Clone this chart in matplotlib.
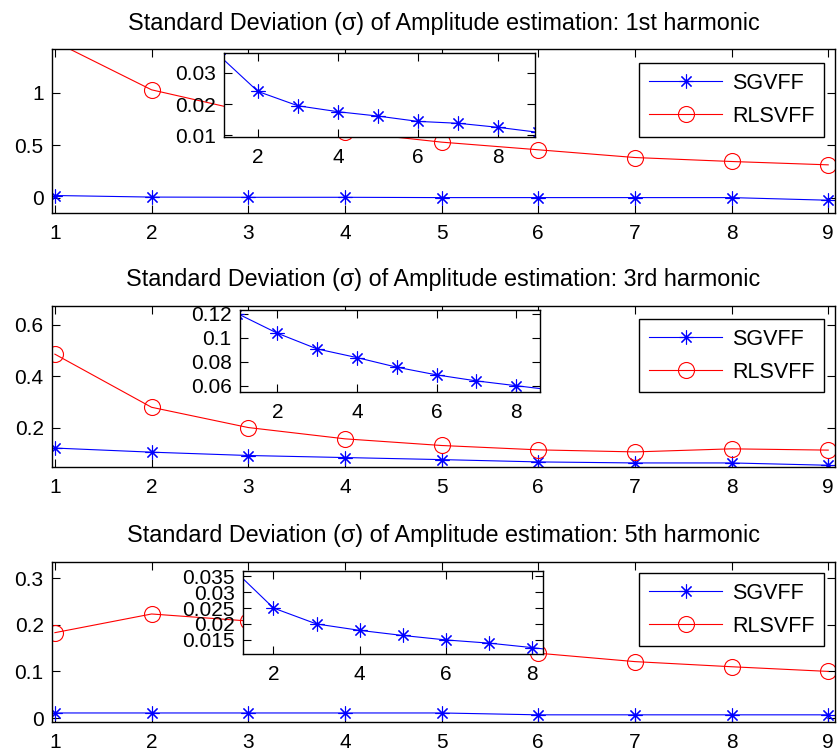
import matplotlib
matplotlib.use("Agg")
from matplotlib import pyplot as plt

plt.rcParams['font.family'] = ['Liberation Sans', 'DejaVu Sans']

x = [1, 2, 3, 4, 5, 6, 7, 8, 9]

# main panels
sg_1st = [0.02, 0.005, 0.003, 0.003, 0.0, 0.0, 0.0, 0.0, -0.025]
rls_1st = [1.49, 1.03, 0.82, 0.63, 0.53, 0.457, 0.383, 0.345, 0.313]
sg_3rd = [0.12, 0.104, 0.091, 0.083, 0.075, 0.066, 0.062, 0.062, 0.053]
rls_3rd = [0.486, 0.279, 0.2, 0.156, 0.13, 0.113, 0.105, 0.117, 0.112]
sg_5th = [0.011, 0.011, 0.011, 0.011, 0.011, 0.007, 0.007, 0.007, 0.007]
rls_5th = [0.183, 0.223, 0.208, 0.19, 0.165, 0.139, 0.121, 0.11, 0.1]

# zoomed SGVFF curves shown in the insets
sg_1st_zoom = [0.036, 0.0241, 0.0195, 0.0176, 0.0162, 0.0145, 0.0139, 0.0126, 0.011]
sg_3rd_zoom = [0.12, 0.1037, 0.0906, 0.0834, 0.0754, 0.069, 0.064, 0.06, 0.056]
sg_5th_zoom = [0.038, 0.025, 0.02, 0.018, 0.0164, 0.015, 0.014, 0.0126, 0.011]

titles = ["Standard Deviation (σ) of Amplitude estimation: 1st harmonic",
          "Standard Deviation (σ) of Amplitude estimation: 3rd harmonic",
          "Standard Deviation (σ) of Amplitude estimation: 5th harmonic"]

main_yticks = [[0, 0.5, 1], [0.2, 0.4, 0.6], [0, 0.1, 0.2, 0.3]]
main_ylabels = [["0", "0.5", "1"], ["0.2", "0.4", "0.6"], ["0", "0.1", "0.2", "0.3"]]
main_ylims = [(-0.15, 1.42), (0.045, 0.675), (-0.009, 0.335)]

zoom_yticks = [[0.01, 0.02, 0.03], [0.06, 0.08, 0.1, 0.12],
               [0.015, 0.02, 0.025, 0.03, 0.035]]
zoom_ylabels = [["0.01", "0.02", "0.03"], ["0.06", "0.08", "0.1", "0.12"],
                ["0.015", "0.02", "0.025", "0.03", "0.035"]]
zoom_ylims = [(0.0096, 0.0365), (0.055, 0.123), (0.0105, 0.0366)]
zoom_xlims = [(1.154, 8.92), (1.063, 8.6), (1.3, 8.26)]

sg_main = [sg_1st, sg_3rd, sg_5th]
rls_main = [rls_1st, rls_3rd, rls_5th]
sg_zoom = [sg_1st_zoom, sg_3rd_zoom, sg_5th_zoom]

W, H = 838, 753
fig = plt.figure(figsize=(W / 100, H / 100), dpi=100)

# pixel boxes (left, top, right, bottom)
main_boxes = [(52, 49, 835, 213.3), (52, 305.7, 835, 467.3), (52, 561.7, 835, 722.3)]
zoom_boxes = [(224, 52.7, 535, 136.7), (240, 310, 540, 391.7), (243.3, 571, 543.3, 654.3)]
legend_tops = [63.3, 319, 573]


def px_axes(box):
    l, t, r, b = box
    return fig.add_axes([l / W, 1 - b / H, (r - l) / W, (b - t) / H])


def style(ax):
    ax.tick_params(direction='in', top=True, right=True, length=5.5,
                   width=0.8, labelsize=15, pad=6)
    ax.tick_params(axis='x', pad=8)
    for s in ax.spines.values():
        s.set_linewidth(1.0)


def inside(vals, lims):
    # like matlab: markers whose point is off the axes are not drawn
    return [k for k, v in enumerate(vals) if lims[0] <= v <= lims[1]]


star = (8, 2, 0)

for i in range(3):
    ax = px_axes(main_boxes[i])
    ax.plot(x, sg_main[i], color='blue', lw=0.8, marker=star, ms=10,
            mew=0.8, label='SGVFF')
    ax.plot(x, rls_main[i], color='red', lw=0.8, marker='o', ms=11.5,
            mew=0.8, mfc='none', label='RLSVFF',
            markevery=inside(rls_main[i], main_ylims[i]))
    ax.set_xlim(0.97, 9.07)
    ax.set_ylim(*main_ylims[i])
    ax.set_xticks(x)
    ax.set_yticks(main_yticks[i], main_ylabels[i])
    style(ax)
    ax.set_title(titles[i], fontsize=16.8, pad=14)
    leg = ax.legend(loc='upper right', bbox_to_anchor=(824 / W, 1 - legend_tops[i] / H),
                    bbox_transform=fig.transFigure, borderaxespad=0, fontsize=15.5,
                    handlelength=3.4, handletextpad=0.45, borderpad=0.45,
                    labelspacing=0.55, fancybox=False, framealpha=1, edgecolor='black')
    leg.get_frame().set_linewidth(1.0)

    ins = px_axes(zoom_boxes[i])
    ins.plot(x, sg_zoom[i], color='blue', lw=0.8, marker=star, ms=10, mew=0.8)
    ins.set_xlim(*zoom_xlims[i])
    ins.set_ylim(*zoom_ylims[i])
    ins.set_xticks([2, 4, 6, 8])
    ins.set_yticks(zoom_yticks[i], zoom_ylabels[i])
    style(ins)

fig.savefig("out.png", dpi=100)
